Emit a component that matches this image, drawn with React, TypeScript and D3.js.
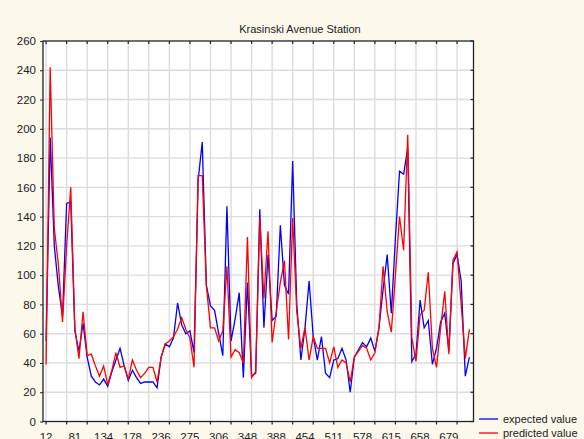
import { useRef, useEffect } from 'react';
import * as d3 from 'd3';

const W = 584;
const H = 439;

// case labels shown on the x axis (every 7th case)
const caseLabels = ['12', '81', '134', '178', '236', '275', '306', '348', '388', '454', '511', '578', '615', '658', '679'];

const expected = [
  55, 194, 120, 92, 72, 149, 150, 62, 48, 67,
  44, 31, 27, 25, 29, 24, 34, 42, 50, 38,
  28, 35, 30, 26, 27, 27, 27, 23, 44, 53,
  51, 57, 81, 66, 60, 62, 47, 165, 191, 93,
  79, 76, 60, 45, 147, 55, 70, 88, 30, 95,
  31, 33, 145, 64, 114, 69, 72, 134, 93, 87,
  178, 80, 42, 64, 96, 58, 42, 58, 33, 30,
  42, 43, 50, 42, 20, 44, 49, 54, 51, 57,
  48, 64, 90, 114, 74, 125, 171, 169, 187, 41,
  46, 83, 64, 69, 39, 50, 68, 74, 48, 108,
  114, 96, 31, 44,
];

const predicted = [
  39, 242, 132, 107, 68, 120, 160, 64, 43, 75,
  45, 46, 38, 31, 38, 25, 35, 47, 37, 38,
  29, 42, 35, 30, 33, 37, 37, 27, 44, 53,
  55, 58, 63, 71, 63, 57, 37, 168, 168, 93,
  64, 64, 55, 62, 106, 44, 49, 47, 40, 126,
  30, 34, 139, 84, 130, 54, 75, 95, 110, 56,
  139, 75, 50, 64, 42, 58, 50, 50, 50, 40,
  51, 37, 42, 40, 27, 44, 48, 52, 50, 42,
  47, 64, 106, 75, 61, 100, 140, 117, 196, 57,
  41, 73, 76, 102, 50, 37, 64, 89, 46, 110,
  116, 80, 43, 63,
];

const yTicks = d3.range(0, 261, 20);

const FONT = 'Liberation Sans, Arial, sans-serif';

export default function App() {
  const svgRef = useRef<SVGSVGElement>(null);

  useEffect(() => {
    document.body.style.margin = '0';
    const svg = d3.select(svgRef.current);
    svg.selectAll('*').remove();

    const x = d3.scaleLinear().domain([-0.75, 104]).range([43, 473.5]);
    const y = d3.scaleLinear().domain([0, 260]).range([421.5, 41]);
    const [x0, x1] = x.range();
    const [y0, y1] = y.range();

    svg.append('rect').attr('width', W).attr('height', H).attr('fill', '#fdf8ec');
    svg.append('rect')
      .attr('x', x0).attr('y', y1)
      .attr('width', x1 - x0).attr('height', y0 - y1)
      .attr('fill', '#ffffff');

    // grid
    const xGrid = d3.range(0, 104, 5);
    svg.append('g').selectAll('line').data(xGrid).join('line')
      .attr('x1', d => x(d)).attr('x2', d => x(d))
      .attr('y1', y1).attr('y2', y0)
      .attr('stroke', '#dcdcdc').attr('stroke-width', 1.4);
    svg.append('g').selectAll('line').data(yTicks.slice(1, -1)).join('line')
      .attr('x1', x0).attr('x2', x1)
      .attr('y1', d => y(d)).attr('y2', d => y(d))
      .attr('stroke', '#dcdcdc').attr('stroke-width', 1.4);

    // series
    const mkLine = d3.line<number>().x((_, i) => x(i)).y(d => y(d));
    svg.append('path').datum(expected)
      .attr('d', mkLine).attr('fill', 'none')
      .attr('stroke', '#0000ff').attr('stroke-width', 1.3);
    svg.append('path').datum(predicted)
      .attr('d', mkLine).attr('fill', 'none')
      .attr('stroke', '#ff0000').attr('stroke-width', 1.3);

    // frame
    svg.append('rect')
      .attr('x', x0).attr('y', y1)
      .attr('width', x1 - x0).attr('height', y0 - y1)
      .attr('fill', 'none').attr('stroke', '#222').attr('stroke-width', 1.3);

    // ticks on frame
    const tk = svg.append('g').attr('stroke', '#222').attr('stroke-width', 1.2);
    tk.selectAll('.tt').data(xGrid).join('line').attr('class', 'tt')
      .attr('x1', d => x(d)).attr('x2', d => x(d)).attr('y1', y1).attr('y2', y1 + 3);
    tk.selectAll('.tb').data(xGrid).join('line').attr('class', 'tb')
      .attr('x1', d => x(d)).attr('x2', d => x(d)).attr('y1', y0).attr('y2', y0 + 3);
    tk.selectAll('.tr').data(yTicks).join('line').attr('class', 'tr')
      .attr('x1', x1 - 3).attr('x2', x1).attr('y1', d => y(d)).attr('y2', d => y(d));

    // y axis
    svg.append('g')
      .attr('transform', `translate(${x0},0)`)
      .call(d3.axisLeft(y).tickValues(yTicks).tickSize(3).tickPadding(4))
      .call(g => g.select('.domain').remove())
      .call(g => g.selectAll('line').attr('stroke', '#222'))
      .call(g => g.selectAll('text')
        .attr('font-family', FONT).attr('font-size', 11.5).attr('fill', '#222'));

    // x labels, one every 7 cases
    svg.append('g').selectAll('text').data(caseLabels).join('text')
      .attr('x', (_, i) => x(i * 7))
      .attr('y', 441)
      .attr('text-anchor', 'middle')
      .attr('font-family', FONT).attr('font-size', 11.5).attr('fill', '#222')
      .text(d => d);

    // title
    svg.append('text')
      .attr('x', 300).attr('y', 33)
      .attr('text-anchor', 'middle')
      .attr('font-family', FONT).attr('font-size', 11).attr('fill', '#222')
      .text('Krasinski Avenue Station');

    // legend
    const legend = [
      { name: 'expected value', color: '#0000ff' },
      { name: 'predicted value', color: '#ff0000' },
    ];
    const lg = svg.append('g').selectAll('g').data(legend).join('g')
      .attr('transform', (_, i) => `translate(479,${419 + i * 14})`);
    lg.append('line').attr('x1', 0).attr('x2', 19).attr('y1', 0).attr('y2', 0)
      .attr('stroke', d => d.color).attr('stroke-width', 1.3);
    lg.append('text').attr('x', 24).attr('y', 4)
      .attr('font-family', FONT).attr('font-size', 11).attr('fill', '#222')
      .text(d => d.name);
  }, []);

  return <svg ref={svgRef} width={W} height={H} style={{ display: 'block' }} />;
}
